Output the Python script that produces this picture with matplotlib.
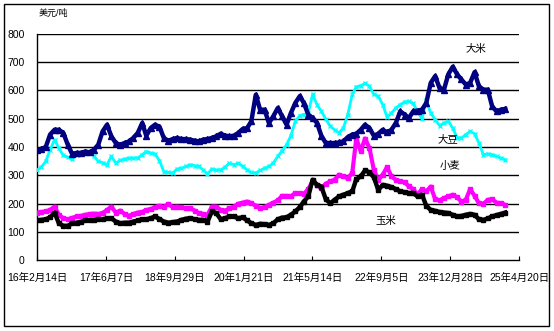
# -*- coding: utf-8 -*-
"""
国际粮价走势：大米、大豆、小麦、玉米（美元/吨）
"""
import datetime as dt
import matplotlib
matplotlib.use('Agg')
import matplotlib.pyplot as plt
from matplotlib.patches import Rectangle
import pandas as pd

plt.rcParams['font.family'] = ['Liberation Sans', 'Noto Sans CJK SC']

# monthly prices, Feb 2016 .. Jan 2025
rice = [390, 393, 400, 444, 461, 461, 450, 408, 376, 379,
        379, 384, 381, 390, 408, 455, 479, 438, 414, 408,
        414, 420, 432, 450, 485, 440, 467, 479, 472, 432,
        422, 428, 432, 428, 428, 426, 422, 420, 426, 428,
        432, 438, 447, 440, 438, 440, 450, 464, 467, 491,
        585, 532, 532, 485, 509, 538, 509, 479, 520, 556,
        580, 556, 515, 503, 485, 440, 414, 414, 414, 416,
        420, 435, 444, 447, 461, 479, 467, 440, 447, 461,
        452, 461, 485, 526, 515, 502, 526, 529, 532, 556,
        627, 651, 609, 603, 657, 684, 657, 639, 621, 627,
        665, 615, 603, 603, 544, 526, 532, 535]

soybean = [319, 329, 349, 390, 426, 396, 370, 364, 357, 373,
           376, 381, 381, 369, 349, 345, 337, 367, 343, 353,
           357, 361, 361, 361, 373, 384, 379, 376, 352, 313,
           310, 308, 322, 325, 331, 337, 334, 331, 319, 305,
           322, 319, 319, 329, 343, 337, 343, 331, 319, 310,
           308, 317, 325, 331, 343, 367, 387, 408, 440, 491,
           511, 515, 520, 586, 550, 526, 499, 473, 461, 450,
           467, 515, 586, 613, 617, 625, 615, 586, 580, 550,
           506, 520, 538, 550, 560, 562, 554, 526, 499, 565,
           520, 497, 476, 485, 491, 467, 432, 432, 444, 455,
           447, 414, 373, 376, 373, 367, 361, 355]

wheat = [168, 170, 172, 177, 189, 160, 148, 144, 149, 154,
         156, 160, 163, 164, 163, 166, 177, 189, 168, 175,
         163, 156, 163, 168, 170, 177, 180, 187, 192, 187,
         199, 187, 189, 186, 183, 183, 175, 166, 163, 160,
         189, 189, 177, 175, 183, 189, 199, 203, 207, 201,
         192, 183, 187, 195, 203, 211, 227, 227, 225, 237,
         237, 234, 251, 278, 266, 254, 270, 278, 284, 302,
         296, 290, 308, 430, 385, 430, 396, 319, 284, 302,
         329, 296, 284, 278, 275, 261, 251, 231, 251, 243,
         260, 215, 211, 219, 225, 231, 222, 207, 213, 251,
         227, 201, 199, 213, 215, 203, 201, 195]

corn = [140, 142, 144, 151, 168, 130, 121, 121, 130, 132,
        135, 140, 142, 142, 144, 144, 147, 148, 136, 130,
        132, 132, 136, 140, 144, 144, 148, 154, 145, 136,
        132, 134, 136, 142, 146, 148, 144, 142, 142, 136,
        172, 166, 144, 148, 154, 154, 148, 151, 140, 130,
        124, 128, 127, 124, 130, 144, 150, 151, 160, 172,
        187, 207, 225, 284, 266, 260, 215, 201, 213, 225,
        231, 237, 243, 286, 296, 317, 310, 293, 248, 266,
        263, 258, 251, 243, 240, 237, 237, 225, 231, 192,
        177, 174, 170, 168, 166, 160, 154, 156, 160, 163,
        160, 144, 142, 147, 154, 159, 163, 168]

dates = pd.date_range('2016-02-01', periods=len(rice), freq='MS') + pd.Timedelta(days=14)

x_start = dt.datetime(2016, 2, 14)
x_end = dt.datetime(2025, 4, 20)
tick_step = 479
y_ticks = [0, 100, 200, 300, 400, 500, 600, 700, 800]

fig = plt.figure(figsize=(5.54, 3.31), dpi=100)
ax = fig.add_axes([37 / 554, 1 - 260 / 331, 482 / 554, 226 / 331])

# thick ribbons, like the dense daily markers of the source chart
ax.plot(dates, soybean, color='#00FFFF', lw=2.0, marker='x', ms=3, mew=1, zorder=3)
ax.plot(dates, rice, color='#000080', lw=3.2, marker='^', ms=4, zorder=4)
ax.plot(dates, wheat, color='#FF00FF', lw=3.0, marker='s', ms=3, zorder=3)
ax.plot(dates, corn, color='black', lw=3.2, marker='s', ms=3, zorder=4)

ax.set_xlim(x_start, x_end)
ax.set_ylim(0, 800)
ax.set_yticks(y_ticks)
for y in y_ticks[1:]:
    ax.axhline(y, color='black', lw=1, zorder=1)

xt = [x_start + dt.timedelta(days=tick_step * i) for i in range(8)]
ax.set_xticks(xt)
ax.set_xticklabels(['%d年%d月%d日' % (d.year % 100, d.month, d.day) for d in xt])
ax.tick_params(axis='x', direction='in', length=3, pad=9, labelsize=7.5)
ax.tick_params(axis='y', length=0, pad=9, labelsize=7.5)

for s in ['top', 'right']:
    ax.spines[s].set_visible(False)
for s in ['left', 'bottom']:
    ax.spines[s].set_linewidth(1)

fig.text(39 / 554, 1 - 13 / 331, '美元/吨', fontsize=6.5, va='center', ha='left')
ax.text(dt.datetime(2024, 6, 25), 747, '大米', fontsize=7.5, ha='center', va='center')
ax.text(dt.datetime(2023, 12, 13), 428, '大豆', fontsize=7.5, ha='center', va='center')
ax.text(dt.datetime(2023, 12, 27), 333, '小麦', fontsize=7.5, ha='center', va='center')
ax.text(dt.datetime(2022, 10, 9), 138, '玉米', fontsize=7.5, ha='center', va='center')

fig.patches.append(Rectangle((4 / 554, 1 - 326 / 331), 545 / 554, 322 / 331,
                             transform=fig.transFigure, fill=False,
                             edgecolor='black', lw=1))

fig.savefig('out.png', dpi=100)
